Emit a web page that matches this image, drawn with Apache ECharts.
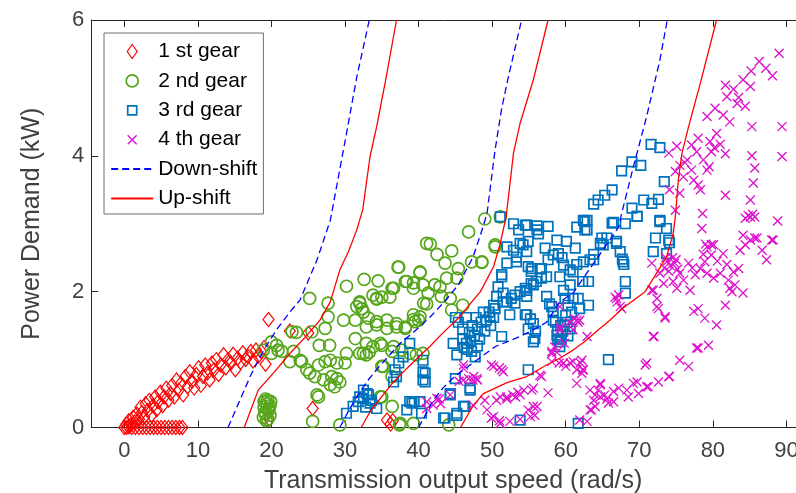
<!DOCTYPE html>
<html><head><meta charset="utf-8">
<script src="https://cdn.jsdelivr.net/npm/echarts@6/dist/echarts.min.js"></script>
<style>html,body{margin:0;padding:0;background:#fff}#c{width:796px;height:493px}</style>
</head><body><div id="c"></div>
<script>
const xTicks = [0,10,20,30,40,50,60,70,80,90];
const yTicks = [0,2,4,6];

const gear1 = [[0,0],[0.3,0],[0.6,0.01],[1,0],[1.5,0],[2,0],[2.5,0],[3,0],[3.5,0],[4,0],[4.5,0],[5,0],[5.5,0],[6,0],[6.5,0],[7,0],[7.5,0],[7.9,0],
[0.3,0.05],[0.6,0.1],[0.9,0.04],[1.2,0.15],[1.4,0.08],[1.7,0.2],[2.0,0.12],[2.2,0.3],[2.4,0.22],[2.7,0.15],[2.9,0.35],[3.2,0.25],[3.4,0.4],[3.7,0.18],[3.9,0.32],[4.2,0.45],[4.4,0.26],[4.6,0.38],[4.9,0.52],[5.2,0.32],[5.4,0.45],[5.7,0.58],[6.0,0.4],[6.3,0.5],[6.5,0.62],[6.8,0.45],[7.1,0.7],[7.4,0.55],[7.7,0.65],[8.0,0.48],[8.3,0.75],[8.6,0.6],[8.9,0.82],[9.2,0.68],[9.5,0.58],[9.8,0.78],[10.1,0.88],[10.4,0.62],[10.7,0.75],[11.0,0.92],[11.3,0.8],[11.6,0.7],[11.9,0.95],[12.2,0.85],[12.5,1.0],[12.8,0.78],[13.1,0.92],[13.5,1.07],[13.8,0.88],[14.1,1.0],[14.5,0.95],[14.8,1.08],[15.1,0.85],[15.4,1.02],[15.8,0.96],[16.1,1.1],[16.5,1.0],[16.8,1.05],[17.2,1.12],[17.5,0.98],[17.9,1.14],[18.2,1.05],[18.6,1.12],[19.0,1.18],[19.2,0.93],[19.6,1.59],[22.5,1.42],[25.0,1.39],[25.6,0.28],[19.7,0.12],[35.7,0.11],[36.5,0.1],[36.2,0.05]];

const gear2 = [[18.9,0.15],[19.2,0.2],[19.5,0.12],[19.8,0.18],[19.0,0.3],[19.4,0.35],[19.7,0.28],[19.9,0.38],[19.1,0.22],[19.6,0.25],[19.3,0.1],[19.8,0.32],[19.0,0.38],[19.5,0.4],[19.2,0.42],
[20.0,1.26],[20.9,1.14],[18.9,1.14],[20.7,1.21],[21.4,1.12],[20.0,1.09],[22.8,1.41],[23.4,1.40],[25.5,1.41],[25.2,1.90],[27.7,1.83],[30.2,2.08],[32.6,2.18],[34.5,2.16],[37.2,2.36],[38.2,2.15],[40.2,2.29],[41.1,2.71],[32.0,1.83],[34.3,1.89],[36.1,1.92],[39.3,2.05],[27.7,1.63],[29.8,1.58],[27.3,1.46],[23.0,1.12],[22.5,0.97],[24.1,0.97],[23.9,0.99],[24.8,0.85],[25.2,0.80],[25.9,0.75],[26.4,0.92],[26.5,1.21],[27.9,1.21],[27.3,0.97],[28.0,0.99],[28.2,0.75],[28.6,0.60],[29.3,0.67],[27.1,0.70],[28.0,0.63],[28.9,0.72],[28.9,0.95],[30.0,0.95],[30.2,1.09],[31.4,1.31],[32.0,1.09],[32.9,1.07],[33.8,1.19],[35.0,1.21],[36.4,1.12],[35.7,1.58],[37.0,1.53],[38.2,1.48],[35.0,0.90],[26.2,0.48],[26.4,0.45],[25.6,0.09],[29.3,0.04],[35.0,0.45],[36.4,0.31],[37.4,0.04],[39.3,1.59],[40.2,1.63],[40.7,1.83],[36.4,2.05],[33.2,1.61],[34.3,1.51],[32.9,1.48],[31.4,1.58],[31.6,1.78],[32.0,1.85],
[49.0,3.07],[51.1,3.10],[46.8,2.88],[41.6,2.70],[42.5,2.55],[44.5,2.60],[43.6,2.42],[45.4,2.34],[47.2,2.44],[48.6,2.43],[50.4,2.66],[37.3,2.36],[40.2,2.28],[38.4,2.15],[39.3,2.13],[40.6,2.10],[42.2,2.10],[43.8,2.20],[45.2,2.20],[42.9,2.07],[41.3,1.98],[43.1,1.93],[44.3,1.90],[46.0,1.80],[44.5,1.73],[41.1,1.82],[39.3,1.66],[40.0,1.58],[36.6,2.05],[34.3,1.90],[33.8,1.95],[35.0,1.92],[32.3,1.75],[32.5,1.70],[34.3,1.56],[35.7,1.46],[37.0,1.48],[38.2,1.46],[39.5,1.56],[32.9,1.24],[34.8,1.24],[32.5,1.09],[33.3,1.11],[36.6,1.19],[37.7,1.14],[38.8,1.09],[39.7,1.07],[35.2,0.90],[36.4,0.75],[34.8,0.45],[37.5,0.06],[39.3,0.06],[44.1,0.04],[40.6,1.09],[50.4,2.69],[48.6,2.44]];

const gear3 = [[30.2,0.21],[31.1,0.31],[32.0,0.45],[32.5,0.55],[33.0,0.50],[33.6,0.40],[34.3,0.28],[32.5,0.43],[33.4,0.36],[32.8,0.30],[33.2,0.48],[31.8,0.38],
[36.8,0.85],[37.0,0.75],[36.6,0.67],[37.3,0.95],[37.9,1.04],[38.8,1.24],[40.6,0.99],[40.9,0.80],[40.9,0.67],[40.6,0.82],[40.6,0.70],[38.8,0.38],[39.4,0.38],[40.2,0.38],[38.4,0.26],[40.4,0.21],[39.1,0.36],[43.4,0.14],[45.2,0.18],[46.1,0.31],[45.0,0.72],[47.0,0.55],[44.3,0.48],[54.9,0.85],[53.8,0.11],[61.7,0.06],[65.8,1.0],[46.3,0.31],[45.2,0.21],[43.6,0.14],[47.0,0.58],[44.3,0.50],
[45.4,1.55],[46.0,1.45],[46.0,1.30],[46.2,1.18],[46.5,1.62],[46.9,1.40],[47.1,1.28],[47.3,1.50],[47.6,1.35],[47.8,1.62],[48.0,1.45],[48.3,1.30],[48.5,1.55],[48.8,1.70],[49.0,1.42],[49.2,1.58],[49.6,1.70],[49.8,1.50],[50.2,1.62],[50.4,1.75],[44.7,1.24],[45.2,1.07],[46.5,1.24],[47.7,1.04],[51.3,1.34],[45.0,1.62],[49.7,1.63],[46.6,1.15],[48.0,1.2],[47.2,1.12],
[51.1,3.10],[52.9,3.0],[54.5,2.98],[56.1,2.97],[57.6,2.96],[53.6,2.91],[56.3,2.85],[61.5,2.95],[62.6,3.03],[66.3,3.01],[68.1,3.0],[69.7,3.11],[54.9,2.74],[53.8,2.71],[52.0,2.66],[53.3,2.51],[54.7,2.59],[52.0,2.42],[57.2,2.64],[58.8,2.76],[60.1,2.74],[61.3,2.64],[59.0,2.56],[57.6,2.47],[59.7,2.39],[61.0,2.29],[55.4,2.34],[51.3,2.25],[50.8,2.07],[50.2,1.80],[51.5,1.85],[52.4,1.66],[53.1,1.83],[54.7,1.93],[54.7,2.02],[55.6,2.10],[56.7,2.20],[56.5,2.34],[54.7,1.66],[55.6,1.53],[55.8,1.31],[54.9,1.45],[55.2,1.6],[55.9,1.42],[57.4,1.93],[58.1,1.78],[58.3,1.58],[58.8,1.36],[59.2,1.26],[59.9,1.90],[59.7,2.02],[60.6,2.10],[61.7,1.90],[61.9,1.75],[63.1,1.80],[63.1,2.15],[62.4,2.44],[63.8,2.47],[64.7,2.71],[65.6,2.79],[66.9,2.71],[67.4,2.59],[67.8,2.44],[67.9,2.40],[67.7,2.48],[68.1,2.15],[68.1,1.98],[71.9,2.59],[74.0,2.76],[74.1,2.72],[72.2,2.79],[72.8,3.03],[73.7,2.93],[73.7,2.56],[59.2,1.19],[59.4,1.3],[59.6,1.42],[59.3,1.5],[60.2,1.55],
[71.6,4.17],[72.8,4.12],[69.0,3.91],[70.2,3.86],[67.6,3.78],[73.4,3.62],[66.3,3.50],[65.3,3.42],[64.4,3.35],[63.8,3.29],[70.6,3.35],[71.7,3.30],[72.6,3.36],[69.0,3.23],[69.7,3.11],[62.9,3.05],[62.6,2.91],[66.5,3.02],[64.9,2.79],[66.9,2.74],[72.8,3.05],[62.4,3.05],
[54.7,2.98],[56.1,2.91],[54.2,2.69],[52.9,2.61],[58.3,2.54],[59.5,2.5],[62.9,2.91],[53.3,2.44],[51.3,2.22],[54.9,2.37],[55.3,2.3],[56.7,2.34],[57.4,2.22],[59.2,2.22],[60.6,2.32],[61.5,2.4],[63.3,2.47],[63.8,2.55],[65.1,2.69],[51.5,1.98],[50.6,1.93],[52.0,1.85],[52.6,1.9],[53.1,1.95],[53.8,2.0],[54.5,2.05],[55.3,2.12],[56.0,2.15],[54.5,1.66],[55.6,1.26],[57.8,1.82],[58.3,1.7],[58.6,1.55],[58.9,1.42],[58.9,1.3],[60.0,1.65],[60.3,1.8],[60.8,1.7],[61.0,1.9],[60.6,1.45],[60.3,1.35],[59.8,1.5],[62.3,2.15]];

const gear4 = [[46.1,0.92],[49.9,0.92],[51.5,0.82],[51.0,0.88],[46.1,0.70],[45.5,0.68],[46.8,0.72],[47.5,0.75],[48.0,0.70],[44.3,0.48],[41.1,0.38],[42.0,0.33],[42.8,0.42],[49.0,0.40],[50.6,0.40],[52.0,0.45],[52.8,0.48],[53.5,0.52],[54.3,0.55],[55.6,0.58],[56.5,0.77],[57.6,0.51],[49.3,0.26],[47.4,0.33],[49.9,0.14],[51.1,0.06],[52.4,0.09],[53.8,0.12],[54.9,0.26],[56.1,0.31],[58.1,1.09],[58.8,1.11],[59.7,0.95],[60.0,0.90],[61.0,0.97],[62.0,0.95],[62.2,0.80],[61.5,0.65],[63.3,0.55],[64.7,0.63],[65.3,0.48],[65.6,0.42],[66.5,0.53],[63.8,0.40],[64.0,0.31],[63.3,0.26],[61.9,0.11],[61.5,1.58],[61.2,1.6],[61.7,1.55],[60.5,1.55],[59.2,1.48],[58.5,1.19],[66.9,1.90],[66.7,1.92],[67.0,1.85],[67.2,1.95],[67.4,1.78],[69.7,0.67],[71.0,0.60],[72.6,0.67],[74.0,0.75],[71.0,0.95],[71.9,1.34],[75.5,0.99],[76.7,0.90],[71.9,2.02],[72.4,1.78],[73.5,1.63],[77.4,1.71],[77.8,1.17],
[50.2,0.90],[51.3,0.85],[46.1,0.87],[47.4,0.70],[47.9,0.72],[42.5,0.43],[43.0,0.35],[41.1,0.28],[51.1,0.45],[52.0,0.42],[53.2,0.45],[53.8,0.48],[55.4,0.55],[50.2,0.16],[51.0,0.1],[55.2,0.16],[55.8,0.18],[55.6,0.31],[56.7,0.75],[58.1,0.97],[59.1,0.95],[60.6,0.95],[61.5,0.85],[62.3,0.85],[64.0,0.48],[64.7,0.45],[59.8,1.24],[58.1,1.12],[61.0,1.44],[59.2,1.44],[59.2,1.78],[62.9,1.34],
[61.9,1.58],[67.6,1.75],[62.2,0.99],[62.4,0.85],[71.7,2.42],[72.8,2.27],[71.7,2.02],[72.4,1.90],[73.3,2.12],[72.6,1.75],[73.5,1.61],[72.0,1.34],[70.8,0.92],[78.0,1.17],[79.4,1.21],[78.0,1.75],[78.9,1.61],[80.5,1.51],[81.7,1.80],[84.1,1.98],[83.0,2.10],[82.6,2.0],
[73.4,2.35],[73.8,2.45],[74.2,2.38],[74.5,2.5],[74.8,2.42],[75.2,2.33],[73.6,2.5],[74.0,2.3],[75.0,2.47],
[75.5,2.27],[76.7,2.42],[76.0,2.17],[75.1,2.05],[74.6,2.15],[76.9,2.02],[77.6,2.25],[78.3,2.34],[78.9,2.44],[79.2,2.27],[79.8,2.54],[80.1,2.20],[81.0,2.27],[81.4,2.56],[79.2,2.66],[80.1,2.69],[78.7,2.55],[82.1,2.17],[82.8,2.29],[83.5,2.34],[82.3,2.05],[83.7,2.61],[84.4,2.69],[85.1,2.76],[86.0,2.79],[86.7,2.61],[87.3,2.47],[88.2,2.76],[80.6,2.45],[81.9,2.4],[77.2,2.35],
[69.2,0.65],[68.3,0.55],[69.9,0.50],[71.2,0.60],[74.1,0.75],[67.2,0.58],[66.5,0.38],[65.8,0.36],[64.7,0.65],[64.4,0.55],[63.5,0.26],[62.9,0.09],[68.5,0.45],
[89.0,5.51],[86.3,5.39],[87.2,5.29],[88.1,5.18],[85.2,5.25],[84.1,5.12],[85.1,5.02],[81.7,5.04],[82.8,4.98],[81.9,4.87],[83.5,4.86],[83.3,4.77],[84.4,4.73],[80.3,4.70],[79.2,4.58],[81.4,4.60],[82.3,4.50],[85.3,4.43],[89.4,4.43],[80.5,4.33],[78.0,4.26],[79.6,4.21],[81.0,4.17],[75.1,4.14],[77.1,4.16],[74.0,4.04],[77.8,4.06],[79.8,4.06],[80.2,4.12],[81.7,4.03],[85.3,4.00],[89.4,3.99],[76.5,3.94],[76.2,3.9],[78.7,3.94],[75.5,3.86],[79.5,3.84],[74.9,3.77],[77.1,3.79],[79.2,3.79],[85.7,3.82],[76.0,3.69],[77.4,3.64],[78.0,3.57],[78.3,3.50],[85.5,3.60],[74.1,3.50],[75.5,3.45],[81.7,3.42],[85.1,3.35],[74.9,3.20],[78.6,3.15],[84.4,3.08],[84.8,3.12],[85.1,3.1],[85.4,3.14],[85.7,3.1],[88.8,3.04],[78.5,2.93],[84.1,2.83],[85.7,2.79],[88.0,2.76],[79.8,2.69],[79.0,2.7]];

const down1 = [[14.1,0],[15.5,0.35],[17.1,0.75],[19,1.15],[20.7,1.44],[22.5,1.7],[23.9,1.88],[26.2,2.47],[28.0,3.05],[30.2,4.33],[31.6,5.16],[33.3,6]];
const down2 = [[29.3,0],[30.5,0.25],[31.6,0.45],[33,0.68],[34.5,0.88],[36,1.06],[37.5,1.24],[39.5,1.42],[41.6,1.63],[43.5,1.85],[45.4,2.1],[47.4,2.51],[48.6,2.9],[49.3,3.15],[50.4,4.09],[51.3,4.7],[52.2,5.16],[54,6]];
const down3 = [[40.0,0],[41,0.2],[42,0.4],[43.3,0.58],[44.7,0.73],[47,0.92],[50.4,1.19],[53.8,1.34],[55.6,1.44],[57.4,1.55],[59.2,1.85],[61,1.98],[63.8,2.42],[65.6,2.7],[67.2,2.95],[67.6,3.15],[69.2,3.84],[71,4.58],[72.8,5.41],[73.8,6]];
const up1 = [[16.3,0],[18.2,0.55],[20.5,0.83],[22.5,1.09],[24.6,1.33],[26.6,1.58],[28,1.85],[29.3,2.32],[30.5,2.6],[31.6,2.91],[32.4,3.2],[33.4,3.99],[34.3,4.43],[35.5,5.1],[37,6]];
const up2 = [[32.2,0],[33.5,0.25],[35.1,0.47],[36.5,0.66],[38.4,0.87],[40.2,1.06],[41.6,1.2],[43,1.36],[45.6,1.63],[47,1.82],[48.4,2.0],[50.2,2.37],[51.1,2.71],[51.9,3.1],[52.9,4.04],[53.8,4.48],[55.6,5.12],[57.6,6]];
const up3 = [[45.7,0],[47.3,0.3],[48.8,0.5],[50.2,0.57],[52,0.66],[54.7,0.75],[57.4,0.92],[59.2,1.02],[61,1.14],[62.5,1.26],[64,1.4],[66,1.58],[67.8,1.76],[70.8,2.0],[72.5,2.3],[73.7,2.51],[74.6,2.85],[74.9,3.1],[75.3,3.64],[75.8,4.04],[76.7,4.43],[78.3,5.07],[80.5,6]];

const FONT = 'Liberation Sans, Arial, sans-serif';
const C1 = '#ff0000', C2 = '#56a61c', C3 = '#0072bd', C4 = '#dd11cc', CD = '#0000ff', CU = '#ff0000';
const none = 'rgba(0,0,0,0)';

const chart = echarts.init(document.getElementById('c'), null, {renderer:'canvas'});
function lineSeries(name, data, color, type) {
  return {type:'line', name, data, symbol:'none', showSymbol:false, smooth:false, color, z:5,
    lineStyle:{color, width:1.3, type}, itemStyle:{color}};
}
const axisCol = '#262626', lblCol = '#404040';
chart.setOption({
  animation:false,
  backgroundColor:'#fff',
  grid:{left:91.2, top:20, right:0, bottom:65.5, containLabel:false, outerBoundsMode:'none'},
  xAxis:[{
    type:'value', min:-4.5, max:91.3, position:'bottom',
    name:'Transmission output speed (rad/s)', nameLocation:'middle', nameGap:41,
    nameTextStyle:{fontFamily:FONT, fontSize:25, color:lblCol, padding:[0,0,0,19]},
    axisLine:{show:true, onZero:false, lineStyle:{color:axisCol, width:1}},
    axisTick:{show:true, inside:true, length:7, customValues:xTicks, lineStyle:{color:axisCol}},
    axisLabel:{customValues:xTicks, fontFamily:FONT, fontSize:22, color:lblCol, margin:12},
    splitLine:{show:false}
  },{
    type:'value', min:-4.5, max:91.3, position:'top',
    axisLine:{show:true, onZero:false, lineStyle:{color:axisCol, width:1}},
    axisTick:{show:true, inside:true, length:7, customValues:xTicks, lineStyle:{color:axisCol}},
    axisLabel:{show:false}, splitLine:{show:false}
  }],
  yAxis:[{
    type:'value', min:0, max:6, interval:2,
    name:'Power Demand (kW)', nameLocation:'middle', nameGap:47,
    nameTextStyle:{fontFamily:FONT, fontSize:25, color:lblCol},
    axisLine:{show:true, onZero:false, lineStyle:{color:axisCol, width:1}},
    axisTick:{show:true, inside:true, length:7, lineStyle:{color:axisCol}},
    axisLabel:{fontFamily:FONT, fontSize:22, color:lblCol, margin:7},
    splitLine:{show:false}
  }],
  legend:{
    orient:'vertical', left:104, top:33, selectedMode:false,
    backgroundColor:'#fff', borderColor:'#6e6e6e', borderWidth:1,
    padding:[7.5,6,4.5,6.2], itemWidth:42, itemHeight:14, itemGap:7.4,
    textStyle:{fontFamily:FONT, fontSize:21, color:'#000', lineHeight:22},
    data:[
      {name:'1 st gear', icon:'path://M0,7M14,7M7,0L12,7L7,14L2,7Z', itemStyle:{color:none, borderColor:C1, borderWidth:1.2}},
      {name:'2 nd gear', icon:'path://M0,0M14,14M7,1A6,6 0 1 1 6.99,1Z', itemStyle:{color:none, borderColor:C2, borderWidth:1.7}},
      {name:'3 rd gear', icon:'path://M0,0M14,14M2.5,2.5L11.5,2.5L11.5,11.5L2.5,11.5Z', itemStyle:{color:none, borderColor:C3, borderWidth:1.7}},
      {name:'4 th gear', icon:'path://M0,0M14,14M2.5,2.5L11.5,11.5M11.5,2.5L2.5,11.5', itemStyle:{color:none, borderColor:C4, borderWidth:1.3}},
      {name:'Down-shift', itemStyle:{color:none, borderColor:none, borderWidth:0, opacity:0}},
      {name:'Up-shift', itemStyle:{color:none, borderColor:none, borderWidth:0, opacity:0}}
    ]
  },
  series:[
    {type:'scatter', name:'1 st gear', data:gear1, symbol:'diamond', symbolSize:[11,14], color:C1,
      itemStyle:{color:none, borderColor:C1, borderWidth:1.2, opacity:1}, z:2},
    {type:'scatter', name:'2 nd gear', data:gear2, symbol:'circle', symbolSize:12, color:C2,
      itemStyle:{color:none, borderColor:C2, borderWidth:1.7, opacity:1}, z:2},
    {type:'scatter', name:'3 rd gear', data:gear3, symbol:'rect', symbolSize:9.5, color:C3,
      itemStyle:{color:none, borderColor:C3, borderWidth:1.7, opacity:1}, z:2},
    {type:'scatter', name:'4 th gear', data:gear4, symbol:'path://M0,0L10,10M10,0L0,10', symbolSize:9, color:C4,
      itemStyle:{color:none, borderColor:C4, borderWidth:1.3, opacity:1}, z:2},
    lineSeries('Down-shift', down1, CD, [7,4]),
    lineSeries('Down-shift', down2, CD, [7,4]),
    lineSeries('Down-shift', down3, CD, [7,4]),
    lineSeries('Up-shift', up1, CU, 'solid'),
    lineSeries('Up-shift', up2, CU, 'solid'),
    lineSeries('Up-shift', up3, CU, 'solid')
  ]
});
</script></body></html>
